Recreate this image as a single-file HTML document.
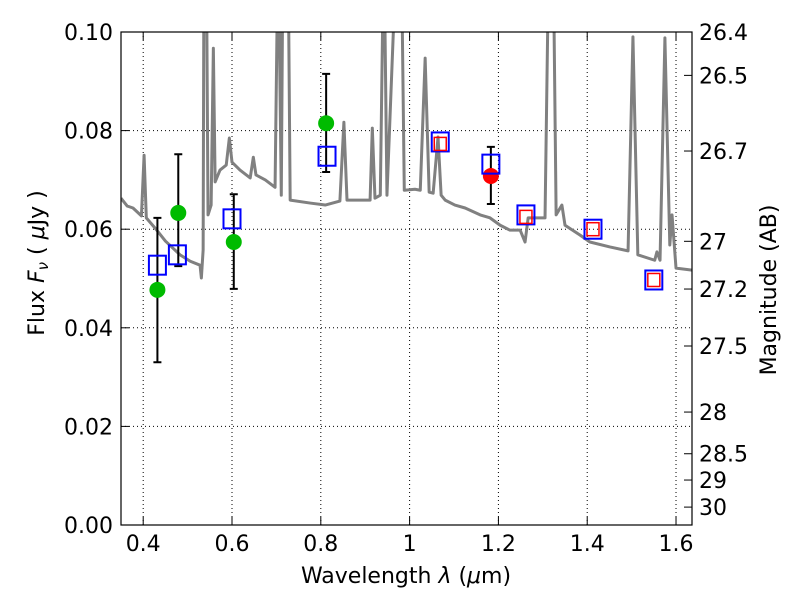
<!DOCTYPE html>
<html><head><meta charset="utf-8"><style>
body{margin:0;background:#fff;}
svg{display:block;font-family:"DejaVu Sans","Liberation Sans",sans-serif;}
</style></head><body>
<svg id="chart" width="800" height="600" viewBox="0 0 800 600">
<rect width="800" height="600" fill="#fff"/>
<g id="grid"></g>
<g id="spec"></g>
<g id="marks"></g>
<g id="axes"></g>
</svg>
<script>
const specLam=[0.350,0.364,0.377,0.396,0.402,0.407,0.427,0.450,0.483,0.506,0.528,0.531,0.535,0.537,0.542,0.546,0.553,0.558,0.562,0.573,0.587,0.594,0.600,0.618,0.641,0.648,0.654,0.675,0.697,0.704,0.711,0.715,0.720,0.726,0.731,0.776,0.810,0.843,0.852,0.859,0.911,0.916,0.922,0.934,0.942,0.949,0.972,0.981,0.988,1.012,1.024,1.035,1.044,1.053,1.064,1.071,1.080,1.102,1.125,1.159,1.181,1.204,1.226,1.249,1.260,1.267,1.305,1.314,1.323,1.330,1.343,1.350,1.384,1.406,1.451,1.492,1.503,1.514,1.552,1.557,1.564,1.575,1.586,1.591,1.600,1.636];
const specFlux=[0.0663,0.0647,0.0643,0.0627,0.0750,0.0623,0.0602,0.0576,0.0548,0.0535,0.0527,0.0501,0.0558,0.12,0.12,0.0629,0.0649,0.0967,0.0696,0.0720,0.0730,0.0785,0.0736,0.0720,0.0704,0.0746,0.0710,0.0700,0.0685,0.12,0.0669,0.12,0.12,0.12,0.0659,0.0653,0.0649,0.0657,0.0817,0.0659,0.0659,0.0805,0.0663,0.0669,0.12,0.0669,0.12,0.12,0.0679,0.0681,0.0679,0.0947,0.0675,0.0673,0.0787,0.0669,0.0659,0.0649,0.0643,0.0629,0.0623,0.0608,0.0598,0.0598,0.0574,0.0623,0.0623,0.12,0.12,0.0629,0.0649,0.0608,0.0588,0.0574,0.0564,0.0556,0.0990,0.0548,0.0537,0.0554,0.0537,0.0988,0.0568,0.0629,0.0521,0.0517];
const blueLam=[0.432,0.477,0.600,0.814,1.069,1.183,1.262,1.413,1.550];
const blueFlux=[0.0527,0.0548,0.0621,0.0748,0.0777,0.0732,0.0629,0.0600,0.0497];
const redSqLam=[1.069,1.262,1.413,1.550];
const redSqFlux=[0.0773,0.0625,0.0600,0.0497];
const greenLam=[0.432,0.479,0.604,0.812];
const greenFlux=[0.0477,0.0633,0.0574,0.0815];
const redLam=[1.183];
const redFlux=[0.0708];
const errLam=[0.432,0.479,0.604,0.812,1.183];
const errHi=[0.0623,0.0752,0.0671,0.0915,0.0767];
const errLo=[0.0330,0.0525,0.0479,0.0716,0.0651];
const xTicks=[0.4,0.6,0.8,1.0,1.2,1.4,1.6];
const xTickLabels=["0.4","0.6","0.8","1","1.2","1.4","1.6"];
const yTicks=[0,0.02,0.04,0.06,0.08,0.10];
const yTickLabels=["0.00","0.02","0.04","0.06","0.08","0.10"];
const magTicks=[26.4,26.5,26.7,27,27.2,27.5,28,28.5,29,30];
const magLabels=["26.4","26.5","26.7","27","27.2","27.5","28","28.5","29","30"];

const L=121,R=692,T=32,B=525,X0=0.35,X1=1.636,Y0=0,Y1=0.1;
const sx=v=>L+(v-X0)/(X1-X0)*(R-L);
const sy=v=>B-(v-Y0)/(Y1-Y0)*(B-T);
const NS="http://www.w3.org/2000/svg";
function mk(tag,attrs,parent){const e=document.createElementNS(NS,tag);for(const k in attrs)e.setAttribute(k,attrs[k]);document.getElementById(parent).appendChild(e);return e;}

const defs=document.createElementNS(NS,'defs');
defs.innerHTML='<clipPath id="pc"><rect x="121" y="32" width="571" height="493"/></clipPath>';
document.getElementById('chart').insertBefore(defs,document.getElementById('chart').firstChild);
document.getElementById('spec').setAttribute('clip-path','url(#pc)');

xTicks.forEach((t,i)=>{const g=mk('line',{x1:sx(t),x2:sx(t),y1:T,y2:B,stroke:'#000','stroke-width':1,'stroke-dasharray':'1,3'},'grid');

});
yTicks.forEach((t,i)=>{const g=mk('line',{x1:L,x2:R,y1:sy(t),y2:sy(t),stroke:'#000','stroke-width':1,'stroke-dasharray':'1,3'},'grid');

});

const sp=mk('polyline',{points:specLam.map((l,i)=>sx(l)+','+sy(specFlux[i])).join(' '),fill:'none',stroke:'#808080','stroke-width':3,'stroke-linejoin':'round'},'spec');



errLam.forEach((l,i)=>{const x=sx(l),y1=sy(errHi[i]),y2=sy(errLo[i]);
const e=mk('path',{d:`M${x},${y1}V${y2}M${x-4},${y1}H${x+4}M${x-4},${y2}H${x+4}`,stroke:'#000','stroke-width':2,fill:'none'},'marks');

});
greenLam.forEach((l,i)=>{const c=mk('circle',{cx:sx(l),cy:sy(greenFlux[i]),r:8,fill:'#00bb00'},'marks');

});
redLam.forEach((l,i)=>{const c=mk('circle',{cx:sx(l),cy:sy(redFlux[i]),r:8,fill:'#ff0000'},'marks');

});
blueLam.forEach((l,i)=>{const x=sx(l),y=sy(blueFlux[i]);const s=mk('rect',{x:x-8.5,y:y-9.5,width:17,height:19,fill:'none',stroke:'#0000ff','stroke-width':2},'marks');

});
redSqLam.forEach((l,i)=>{const x=sx(l),y=sy(redSqFlux[i]);const s=mk('rect',{x:x-6,y:y-6.5,width:12,height:13,fill:'none',stroke:'#ff0000','stroke-width':1.5},'marks');

});

const fr=mk('rect',{x:L,y:T,width:R-L,height:B-T,fill:'none',stroke:'#000','stroke-width':1.2},'axes');


xTicks.forEach((t,i)=>{const x=sx(t);
mk('path',{d:`M${x},${B}v-8M${x},${T}v8`,stroke:'#000','stroke-width':1},'axes');
const tx=mk('text',{x:x,y:B+26,'font-size':22,'text-anchor':'middle'},'axes');tx.textContent=xTickLabels[i];

});
yTicks.forEach((t,i)=>{const y=sy(t);
mk('path',{d:`M${L},${y}h8`,stroke:'#000','stroke-width':1},'axes');
const tx=mk('text',{x:L-8,y:y+8,'font-size':22,'text-anchor':'end'},'axes');tx.textContent=yTickLabels[i];

});
magTicks.forEach((m,i)=>{const y=sy(Math.pow(10,(23.9-m)/2.5));
mk('path',{d:`M${R},${y}h-8`,stroke:'#000','stroke-width':1},'axes');
const tx=mk('text',{x:R+7,y:y+8,'font-size':22},'axes');tx.textContent=magLabels[i];

});
</script>
<svg style="position:absolute;left:0;top:0" width="800" height="600">
<text x="406" y="583" font-size="22" text-anchor="middle" font-family="DejaVu Sans,sans-serif">Wavelength  <tspan font-style="italic">λ</tspan> (<tspan font-style="italic">μ</tspan>m)</text>
<text transform="translate(44,263) rotate(-90)" font-size="22" text-anchor="middle" font-family="DejaVu Sans,sans-serif">Flux  <tspan font-style="italic">F</tspan><tspan font-style="italic" font-size="15" dy="4">ν</tspan><tspan dy="-4">  ( </tspan><tspan font-style="italic">μ</tspan>Jy )</text>
<text transform="translate(776,290) rotate(-90)" font-size="22" text-anchor="middle" font-family="DejaVu Sans,sans-serif">Magnitude (AB)</text>
</svg>
</body></html>
